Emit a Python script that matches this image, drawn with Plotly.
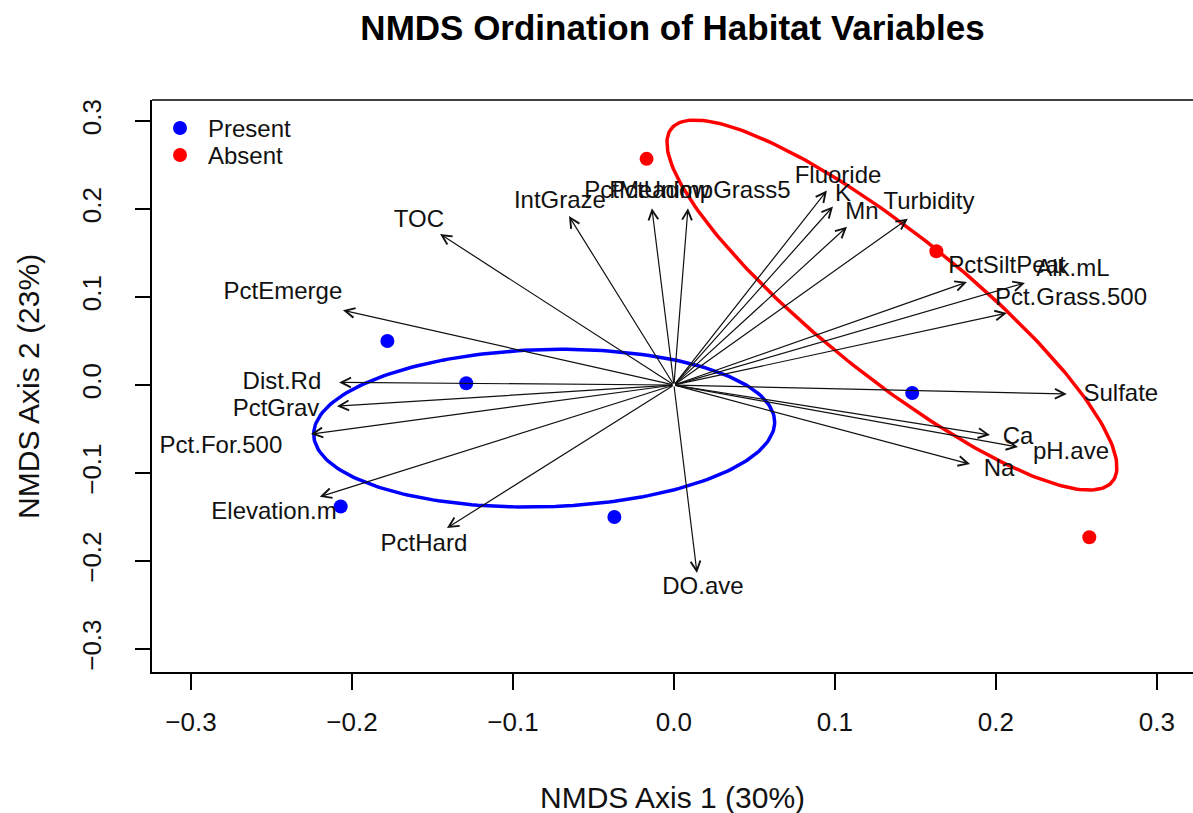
import numpy as np
import plotly.graph_objects as go

# ---------------- data ----------------
present_x = [-0.178, -0.129, -0.207, -0.037, 0.148]
present_y = [0.050, 0.002, -0.138, -0.150, -0.009]
absent_x = [-0.017, 0.163, 0.258]
absent_y = [0.257, 0.152, -0.173]

# "Absent" group ellipse (centre and covariance)
absent_ell_center = [0.1354, 0.0909]
absent_ell_cov = [[0.01953, -0.02573], [-0.02573, 0.0442]]

var_names = ["TOC", "IntGraze", "PctMeadow", "PctUnimpGrass5", "Fluoride", "K", "Mn",
             "Turbidity", "PctSiltPeat", "Alk.mL", "Pct.Grass.500", "Sulfate", "Ca",
             "pH.ave", "Na", "DO.ave", "PctHard", "Elevation.m", "Pct.For.500",
             "PctGrav", "Dist.Rd", "PctEmerge"]
arrow_x = [-0.1453, -0.0652, -0.0137, 0.0087, 0.0950, 0.0988, 0.1075,
           0.1453, 0.1820, 0.2180, 0.2068, 0.2440, 0.1963,
           0.2137, 0.1839, 0.0143, -0.1410, -0.2200, -0.2255,
           -0.2093, -0.2080, -0.2056]
arrow_y = [0.1716, 0.1920, 0.2010, 0.2010, 0.2210, 0.2030, 0.1800,
           0.1890, 0.1170, 0.1160, 0.0818, -0.0102, -0.0568,
           -0.0705, -0.0898, -0.2136, -0.1625, -0.1270, -0.0557,
           -0.0240, 0.0030, 0.0850]
label_x = [-0.1584, -0.0708, -0.0168, 0.0161, 0.1019, 0.1050, 0.1168,
           0.1584, 0.2068, 0.2478, 0.2466, 0.2776, 0.2137,
           0.2466, 0.2019, 0.0180, -0.1553, -0.2484, -0.2814,
           -0.2472, -0.2435, -0.2429]
label_y = [0.1864, 0.2080, 0.2193, 0.2193, 0.2364, 0.2159, 0.1955,
           0.2068, 0.1341, 0.1307, 0.0977, -0.0114, -0.0602,
           -0.0773, -0.0966, -0.2307, -0.1818, -0.1455, -0.0705,
           -0.0284, 0.0023, 0.1045]

x_ticks = [-0.3, -0.2, -0.1, 0.0, 0.1, 0.2, 0.3]
y_ticks = [-0.3, -0.2, -0.1, 0.0, 0.1, 0.2, 0.3]

legend_names = ["Present", "Absent"]
legend_colors = ["#0000FF", "#FF0000"]

FONT = "Liberation Sans, Arial, sans-serif"


def ellipse_from_cov(center, cov, n=240):
    vals, vecs = np.linalg.eigh(np.asarray(cov))
    t = np.linspace(0, 2 * np.pi, n)
    circ = np.vstack([np.cos(t), np.sin(t)])
    e = vecs @ np.diag(np.sqrt(vals)) @ circ
    return center[0] + e[0], center[1] + e[1]


def sd_ellipse(xs, ys):
    pts = np.column_stack([xs, ys])
    return ellipse_from_cov(pts.mean(axis=0), np.cov(pts, rowvar=False))


fig = go.Figure()

ex, ey = sd_ellipse(present_x, present_y)
fig.add_trace(go.Scatter(x=ex, y=ey, mode="lines", line=dict(color="#0000FF", width=3.5),
                         showlegend=False, hoverinfo="skip"))
ex, ey = ellipse_from_cov(absent_ell_center, absent_ell_cov)
fig.add_trace(go.Scatter(x=ex, y=ey, mode="lines", line=dict(color="#FF0000", width=3.5),
                         showlegend=False, hoverinfo="skip"))

fig.add_trace(go.Scatter(x=present_x, y=present_y, mode="markers", name="Present",
                         marker=dict(color="#0000FF", size=14), showlegend=False))
fig.add_trace(go.Scatter(x=absent_x, y=absent_y, mode="markers", name="Absent",
                         marker=dict(color="#FF0000", size=14), showlegend=False))

fig.add_trace(go.Scatter(x=label_x, y=label_y, mode="text", text=var_names,
                         textposition="middle center",
                         textfont=dict(family=FONT, size=24, color="#111111"),
                         showlegend=False, hoverinfo="skip"))

for xa, ya in zip(arrow_x, arrow_y):
    fig.add_annotation(x=xa, y=ya, ax=0, ay=0, xref="x", yref="y", axref="x", ayref="y",
                       text="", showarrow=True, arrowhead=5, arrowsize=1.6,
                       arrowwidth=1.2, arrowcolor="#111111", standoff=0, startstandoff=0)

# legend (no box, top-left, as in the original)
leg_y = [0.951, 0.9038]
for name, col, ly in zip(legend_names, legend_colors, leg_y):
    fig.add_shape(type="circle", xref="paper", yref="paper", xsizemode="pixel", ysizemode="pixel",
                  xanchor=0.0269, yanchor=ly, x0=-7, x1=7, y0=-7, y1=7,
                  fillcolor=col, line=dict(color=col, width=0))
    fig.add_annotation(x=0.0519, y=ly, xref="paper", yref="paper", text=name, showarrow=False,
                       xanchor="left", yanchor="middle",
                       font=dict(family=FONT, size=24, color="#111111"))

# axis titles
fig.add_annotation(x=0.5, y=-0.2200, xref="paper", yref="paper", text="NMDS Axis 1 (30%)",
                   showarrow=False, font=dict(family=FONT, size=30, color="#111111"),
                   xanchor="center", yanchor="middle")
fig.add_annotation(x=-0.1192, y=0.5, xref="paper", yref="paper", text="NMDS Axis 2 (23%)",
                   showarrow=False, textangle=-90, font=dict(family=FONT, size=30, color="#111111"),
                   xanchor="center", yanchor="middle")

# top border of box
fig.add_shape(type="line", xref="paper", yref="paper", x0=0, x1=1, y0=1, y1=1,
              line=dict(color="black", width=1.5))

fig.update_layout(
    width=1193, height=813,
    margin=dict(l=152, r=0, t=100, b=141),
    paper_bgcolor="white", plot_bgcolor="white",
    title=dict(text="<b>NMDS Ordination of Habitat Variables</b>", x=0.5, xref="paper",
               y=1 - 28 / 813, yref="container", xanchor="center", yanchor="middle",
               font=dict(family=FONT, size=35, color="black")),
    showlegend=False,
    font=dict(family=FONT),
)
fig.update_xaxes(range=[-0.3242, 0.3224], tickvals=x_ticks,
                 ticktext=[f"{v:.1f}".replace("-", "\u2212") for v in x_ticks],
                 showgrid=False, zeroline=False, showline=True, linecolor="black", linewidth=1.5,
                 ticks="outside", ticklen=16, tickwidth=1.5, tickcolor="black",
                 tickfont=dict(family=FONT, size=26, color="#111111"), ticklabelstandoff=10)
fig.update_yaxes(range=[-0.3261, 0.3239], tickvals=y_ticks,
                 ticktext=[f"{v:.1f}".replace("-", "\u2212") for v in y_ticks],
                 showgrid=False, zeroline=False, showline=True, linecolor="black", linewidth=1.5,
                 ticks="outside", ticklen=15, tickwidth=1.5, tickcolor="black", tickangle=-90,
                 tickfont=dict(family=FONT, size=26, color="#111111"), ticklabelstandoff=24)

fig.write_html("out.html")
